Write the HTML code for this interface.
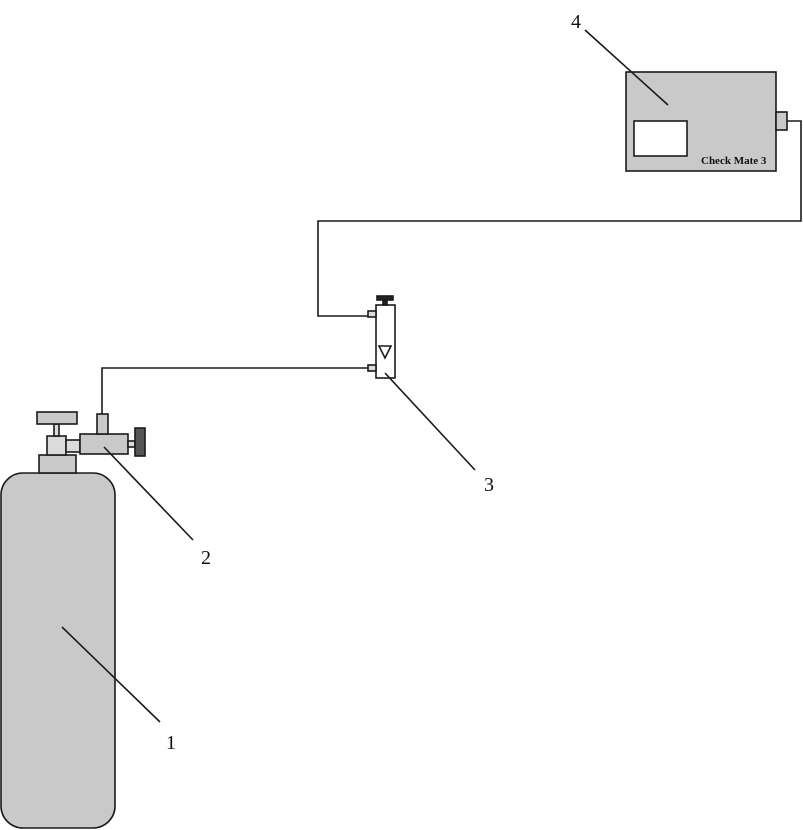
<!DOCTYPE html>
<html><head><meta charset="utf-8"><style>
html,body{margin:0;padding:0;background:#fff;}
svg{display:block;}
text{font-family:"Liberation Serif",serif;fill:#111;}
</style></head><body>
<svg width="803" height="830" viewBox="0 0 803 830" xmlns="http://www.w3.org/2000/svg">
<g stroke="#1a1a1a" stroke-width="1.6" fill="#c9c9c9">
  <!-- cylinder -->
  <rect x="1" y="473" width="114" height="355" rx="22" ry="22"/>
  <rect x="39" y="455" width="37" height="18"/>
  <rect x="47" y="436" width="19" height="19" fill="#dcdcdc"/>
  <rect x="54" y="424" width="5" height="12" fill="#dcdcdc"/>
  <rect x="37" y="412" width="40" height="12"/>
  <rect x="66" y="440" width="14" height="12" fill="#dcdcdc"/>
  <!-- regulator -->
  <rect x="80" y="434" width="48" height="20"/>
  <rect x="97" y="414" width="11" height="20"/>
  <rect x="128" y="441" width="7" height="6" fill="#dcdcdc"/>
  <rect x="135" y="428" width="10" height="28" fill="#555"/>
  <!-- flowmeter -->
  <rect x="376" y="305" width="19" height="73" fill="#fff"/>
  <rect x="368" y="311" width="8" height="6" fill="#dcdcdc"/>
  <rect x="368" y="365" width="8" height="6" fill="#dcdcdc"/>
  <rect x="383" y="299" width="4" height="6" fill="#222"/>
  <rect x="377" y="296" width="16" height="4" fill="#222"/>
  <polygon points="379,346 391,346 385,358" fill="#fff"/>
  <!-- device -->
  <rect x="626" y="72" width="150" height="99"/>
  <rect x="634" y="121" width="53" height="35" fill="#fff"/>
  <rect x="776" y="112" width="11" height="18"/>
</g>
<g stroke="#1a1a1a" stroke-width="1.6" fill="none">
  <polyline points="787,121 801,121 801,221 318,221 318,316 368,316"/>
  <polyline points="368,368 102,368 102,414"/>
  <line x1="585" y1="30" x2="668" y2="105"/>
  <line x1="475" y1="470" x2="385" y2="373"/>
  <line x1="193" y1="540" x2="104" y2="447"/>
  <line x1="160" y1="722" x2="62" y2="627"/>
</g>
<text x="701" y="164" font-size="11" font-weight="bold">Check Mate 3</text>
<text x="571" y="28" font-size="20">4</text>
<text x="484" y="491" font-size="20">3</text>
<text x="201" y="564" font-size="20">2</text>
<text x="166" y="749" font-size="20">1</text>
</svg>
</body></html>
